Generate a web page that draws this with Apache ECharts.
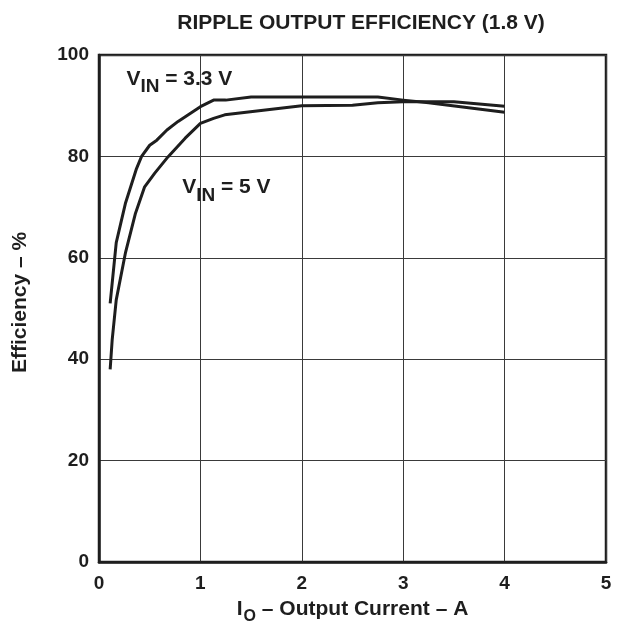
<!DOCTYPE html>
<html>
<head>
<meta charset="utf-8">
<script src="https://cdn.jsdelivr.net/npm/echarts@6/dist/echarts.min.js"></script>
<style>
  html, body { margin: 0; padding: 0; background: #fff; }
  #chart { width: 618px; height: 627px; }
</style>
</head>
<body>
<div id="chart"></div>
<script>
// VIN = 3.3 V curve
const current33 = [0.11, 0.17, 0.26, 0.37, 0.42, 0.5, 0.57, 0.67, 0.78, 1.0, 1.13, 1.25, 1.5, 2.75, 3.0, 3.25, 4.0];
const eff33 = [51, 63, 70.7, 77.6, 80, 82.2, 83.2, 85.2, 86.9, 89.8, 91.1, 91.1, 91.7, 91.7, 91.1, 90.6, 88.7];
// VIN = 5 V curve
const current5 = [0.11, 0.13, 0.17, 0.26, 0.36, 0.45, 0.55, 0.68, 0.85, 1.0, 1.13, 1.24, 2.0, 2.5, 2.75, 3.0, 3.5, 4.0];
const eff5 = [38, 43.8, 51.7, 60.9, 68.8, 74, 76.7, 79.9, 83.6, 86.5, 87.5, 88.2, 90, 90.1, 90.6, 90.8, 90.8, 89.9];

const font = '"Liberation Sans", Arial, Helvetica, sans-serif';
const ink = '#1e1e1e';

let chart = echarts.init(document.getElementById('chart'));

const option = {
  animation: false,
  textStyle: { fontFamily: font },
  title: {
    text: 'RIPPLE OUTPUT EFFICIENCY (1.8 V)',
    left: 356,
    top: 8,
    textAlign: 'center',
    textStyle: { fontFamily: font, fontSize: 21, fontWeight: 'bold', color: ink }
  },
  grid: {
    left: 99,
    right: 12,
    top: 55,
    bottom: 65,
    outerBoundsMode: 'none',
    containLabel: false,
    show: true,
    borderColor: ink,
    borderWidth: 2.5
  },
  xAxis: {
    type: 'value',
    min: 0,
    max: 5,
    interval: 1,
    axisLine: { show: true, lineStyle: { color: ink, width: 2.5 } },
    axisTick: { show: false },
    axisLabel: { margin: 12, fontFamily: font, fontSize: 19, fontWeight: 'bold', color: ink },
    splitLine: { show: true, lineStyle: { color: '#3a3a3a', width: 1 } },
    name: '{a|I}{b|O}{a| – Output Current – A}',
    nameLocation: 'middle',
    nameGap: 37,
    nameTextStyle: {
      rich: {
        a: { fontFamily: font, fontSize: 21, fontWeight: 'bold', color: ink, lineHeight: 24, verticalAlign: 'top' },
        b: { fontFamily: font, fontSize: 16, fontWeight: 'bold', color: ink, lineHeight: 17, padding: [10, 0, 0, 1], verticalAlign: 'top' }
      }
    }
  },
  yAxis: {
    type: 'value',
    min: 0,
    max: 100,
    interval: 20,
    axisLine: { show: true, lineStyle: { color: ink, width: 2.5 } },
    axisTick: { show: false },
    axisLabel: { margin: 10, fontFamily: font, fontSize: 19, fontWeight: 'bold', color: ink },
    splitLine: { show: true, lineStyle: { color: '#3a3a3a', width: 1 } },
    name: 'Efficiency – %',
    nameLocation: 'middle',
    nameGap: 68,
    nameTextStyle: { fontFamily: font, fontSize: 21, fontWeight: 'bold', color: ink, padding: [0, 0, 0, 12] }
  },
  series: [
    {
      name: 'VIN = 3.3 V',
      type: 'line',
      data: current33.map((x, i) => [x, eff33[i]]),
      symbol: 'none',
      lineStyle: { color: ink, width: 3, join: 'round' }
    },
    {
      name: 'VIN = 5 V',
      type: 'line',
      data: current5.map((x, i) => [x, eff5[i]]),
      symbol: 'none',
      lineStyle: { color: ink, width: 3, join: 'round' }
    },
    {
      // curve labels, anchored in data space
      type: 'scatter',
      symbolSize: 0,
      silent: true,
      data: [
        { value: [0.27, 95], label: { formatter: '{a|V}{b|IN}{a| = 3.3 V}' } },
        { value: [0.82, 73.6], label: { formatter: '{a|V}{b|IN}{a| = 5 V}' } }
      ],
      label: {
        show: true,
        position: 'right',
        distance: 0,
        color: ink,
        opacity: 1,
        rich: {
          a: { fontFamily: font, fontSize: 21, fontWeight: 'bold', color: ink, lineHeight: 24, verticalAlign: 'top' },
          b: { fontFamily: font, fontSize: 19, fontWeight: 'bold', color: ink, lineHeight: 20, padding: [9, 0, 0, 0], verticalAlign: 'top' }
        }
      },
      itemStyle: { opacity: 1 }
    }
  ]
};

chart.setOption(option);
</script>
</body>
</html>
